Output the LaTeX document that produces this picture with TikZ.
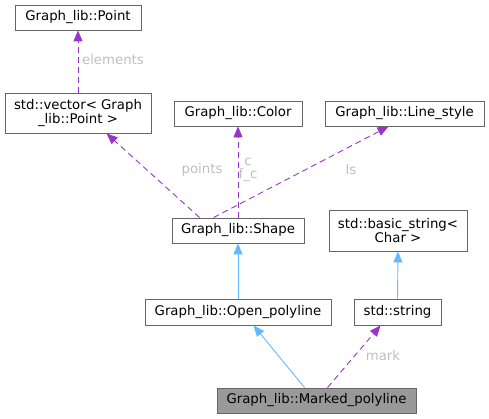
\documentclass[tikz,border=0pt]{standalone}
\usepackage{fontspec}
\setmainfont{DejaVu Sans}
\usetikzlibrary{arrows.meta,calc}
\definecolor{edgegray}{HTML}{666666}
\definecolor{purp}{HTML}{9A32CD}
\definecolor{blu}{HTML}{63B8FF}
\definecolor{lbl}{HTML}{BFBFBF}
\definecolor{fillg}{HTML}{999999}
\begin{document}
\begin{tikzpicture}[x=1pt,y=-1pt,
  cls/.style={draw=edgegray,line width=0.9pt,fill=white,inner sep=0pt,font=\fontsize{13.3}{14.5}\selectfont,align=center},
  usage/.style={draw=purp,line width=0.9pt,dash pattern=on 6pt off 4pt,-{Triangle[width=9pt,length=11pt]}},
  inh/.style={draw=blu,line width=0.9pt,-{Triangle[width=9pt,length=11pt]}},
  elab/.style={text=lbl,font=\fontsize{13.3}{14.5}\selectfont,inner sep=0pt,align=center}]
\useasboundingbox (0,0) rectangle (489,419);
\node[cls,minimum width=126pt,minimum height=25pt] (pt) at (78,17.5) {Graph\_lib::Point};
\node[cls,minimum width=146pt,minimum height=40pt] (vec) at (78,113) {std::vector< Graph\\\_lib::Point >};
\node[cls,minimum width=128pt,minimum height=25pt] (col) at (238,113.5) {Graph\_lib::Color};
\node[cls,minimum width=159pt,minimum height=25pt] (ls) at (404.5,113.5) {Graph\_lib::Line\_style};
\node[cls,minimum width=132pt,minimum height=25pt] (sh) at (238,230.5) {Graph\_lib::Shape};
\node[cls,minimum width=138pt,minimum height=41pt] (bs) at (398,230.5) {std::basic\_string<\\Char >};
\node[cls,minimum width=186pt,minimum height=26pt] (op) at (238,312) {Graph\_lib::Open\_polyline};
\node[cls,minimum width=87pt,minimum height=26pt] (str) at (397.5,312) {std::string};
\node[cls,fill=fillg,minimum width=199pt,minimum height=25pt] (mp) at (316.5,400.5) {Graph\_lib::Marked\_polyline};
\draw[usage] (vec.north) -- (pt.south);
\node[elab] (lel) at (113,60) {elements};
\draw[usage] ($(sh.north west)+(28,0)$) -- ($(vec.south west)+(102,0)$);
\node[elab] (lpt) at (202,170) {points};
\draw[usage] (sh.north) -- (col.south);
\node[elab] (lc) at (248,170) {c\\[-1pt]f\_c};
\draw[usage] ($(sh.north west)+(42,0)$) -- ($(ls.south west)+(64,0)$);
\node[elab] (lls) at (351,170) {ls};
\draw[inh] (op.north) -- (sh.south);
\draw[inh] (str.north) -- (bs.south);
\draw[inh] ($(mp.north west)+(88,0)$) -- ($(op.south west)+(109,0)$);
\draw[usage] ($(mp.north west)+(111,0)$) -- ($(str.south west)+(27,0)$);
\node[elab] (lmk) at (383,356) {mark};
\end{tikzpicture}
\end{document}
